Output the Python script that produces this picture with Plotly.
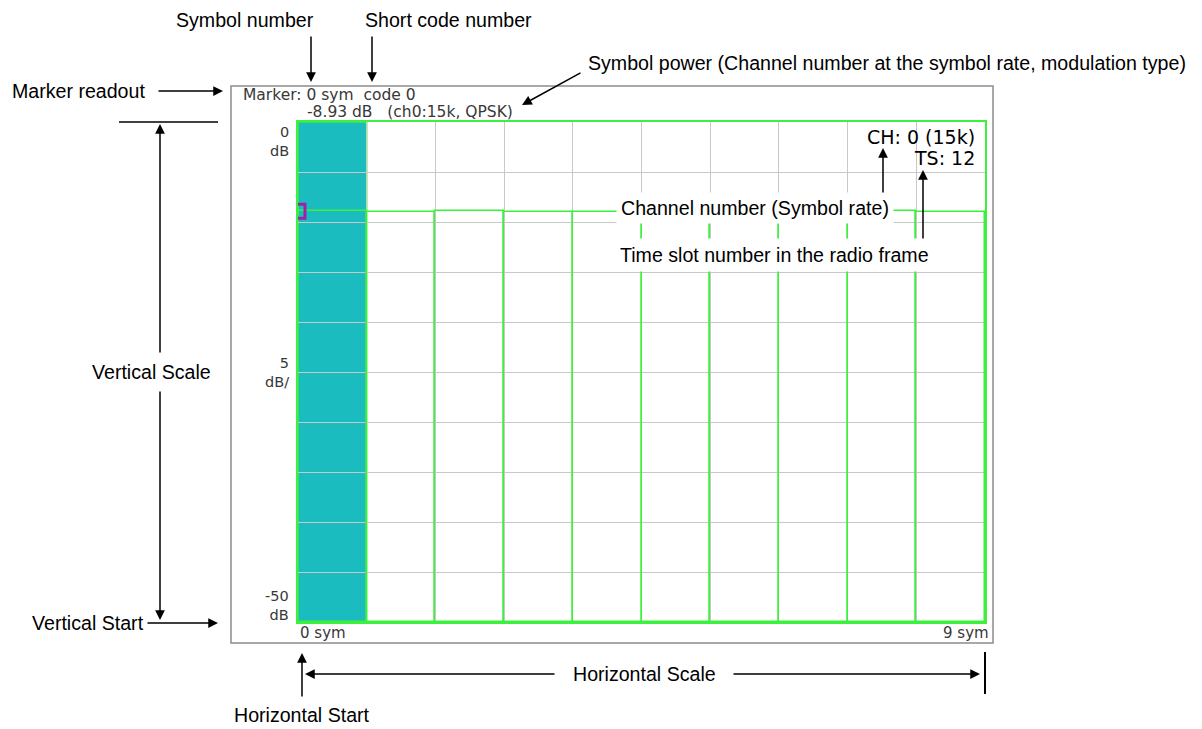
"""Code domain power vs symbol display with callout annotations."""

import plotly.graph_objects as go

# ---------------------------------------------------------------------------
# Data read from the display
# ---------------------------------------------------------------------------
symbols = [0, 1, 2, 3, 4, 5, 6, 7, 8, 9]
symbol_power_db = [-8.93, -8.95, -8.85, -9.03, -9.03, -8.95, -9.0, -8.95, -8.87, -8.97]
marker_symbol = 0
marker_code = 0
marker_power = -8.93
channel_info = "ch0:15k, QPSK"
vertical_start = -50
vertical_top = 0
vertical_per_div = 5
horizontal_start_label = "0 sym"
horizontal_end_label = "9 sym"
ch_label = "CH: 0 (15k)"
ts_label = "TS: 12"

# ---------------------------------------------------------------------------
# Look
# ---------------------------------------------------------------------------
GREEN = "#3ef03e"
CYAN = "#1bbcbf"
GRID = "#c8c8c8"
SCREEN_TXT = "#383838"
SCREEN_FONT = "DejaVu Sans"
NOTE_FONT = "Liberation Sans Narrow, Liberation Sans, Arial"
NOTE_SIZE = 19.6

W, H = 1202, 729
L, R, T, B = 298, 985, 122, 622


def px(x):
    return (x - L) / (R - L)


def py(y):
    return (B - y) / (B - T)


fig = go.Figure()

# marker highlight column
fig.add_shape(
    type="rect", xref="x", yref="y",
    x0=marker_symbol, x1=marker_symbol + 1, y0=vertical_start, y1=vertical_top,
    fillcolor=CYAN, line=dict(color=GREEN, width=1.5), layer="below",
)

fig.add_trace(go.Bar(
    x=symbols,
    y=[p - vertical_start for p in symbol_power_db],
    base=vertical_start,
    width=1, offset=0,
    marker=dict(color="rgba(0,0,0,0)", line=dict(color=GREEN, width=1.5)),
    hoverinfo="skip",
))

fig.add_trace(go.Scatter(
    x=[marker_symbol], y=[marker_power], mode="markers",
    marker=dict(symbol="square-open", size=14, color="#a020a8", line=dict(width=3)),
    hoverinfo="skip",
))

# screen frame and callout lines
shapes = [
    dict(type="rect", xref="paper", yref="paper", x0=px(231), x1=px(993), y0=py(643), y1=py(86),
         line=dict(color="#8c8c8c", width=1.5)),
    dict(type="line", xref="paper", yref="paper", x0=px(119), x1=px(218), y0=py(122), y1=py(122),
         line=dict(color="black", width=1.5)),
    dict(type="line", xref="paper", yref="paper", x0=px(985), x1=px(985), y0=py(652), y1=py(694),
         line=dict(color="black", width=2)),
]
for s in shapes:
    fig.add_shape(**s)


def arrow(hx, hy, tx, ty):
    fig.add_annotation(
        x=px(hx), y=py(hy), xref="paper", yref="paper",
        ax=tx - hx, ay=ty - hy, axref="pixel", ayref="pixel",
        text="", showarrow=True, arrowhead=2, arrowsize=1.3, arrowwidth=1.5,
        arrowcolor="black",
    )


def note(text, x, y, anchor="center", size=NOTE_SIZE, font=NOTE_FONT, color="black", bg=None, pad=1):
    fig.add_annotation(
        x=px(x), y=py(y), xref="paper", yref="paper", text=text, showarrow=False,
        xanchor=anchor, yanchor="middle", align=anchor if anchor != "center" else "center",
        font=dict(family=font, size=size, color=color),
        bgcolor=bg, borderpad=pad,
    )


# arrows first so text boxes sit on top
arrow(311, 82, 311, 35)
arrow(372, 82, 372, 35)
arrow(223, 91, 157, 91)
arrow(522, 105, 582, 72)
arrow(883, 148, 883, 198)
arrow(923, 170, 923, 245)
arrow(160, 124, 160, 372)
arrow(160, 620, 160, 372)
arrow(218, 623, 146, 623)
arrow(302, 653, 302, 698)
arrow(305, 674, 556, 674)
arrow(980, 674, 732, 674)

# callout labels
note("Symbol number", 245, 20)
note("Short code number", 448, 20)
note("Marker readout", 10, 91, anchor="left")
note("Symbol power (Channel number at the symbol rate, modulation type)", 586, 63, anchor="left")
note("Channel number (Symbol rate)", 755, 208, bg="white", pad=4)
note("Time slot number in the radio frame", 774, 255, bg="white", pad=5)
note("Vertical Scale", 220, 372, anchor="right", bg="white", pad=8)
note("Vertical Start", 30, 623, anchor="left")
note("Horizontal Start", 302, 715)
note("Horizontal Scale", 644, 674)

# on-screen readouts
note(f"Marker: {marker_symbol} sym  code {marker_code}", 241, 95, anchor="left",
     size=15.5, font=SCREEN_FONT, color=SCREEN_TXT)
note(f"{marker_power:.2f} dB   ({channel_info})", 305, 112, anchor="left",
     size=15.5, font=SCREEN_FONT, color=SCREEN_TXT)
note(f"{vertical_top}<br>dB", 291, 141, anchor="right", size=14.5, font=SCREEN_FONT, color=SCREEN_TXT)
note(f"{vertical_per_div}<br>dB/", 291, 372, anchor="right", size=14.5, font=SCREEN_FONT, color=SCREEN_TXT)
note(f"{vertical_start}<br>dB", 291, 605, anchor="right", size=14.5, font=SCREEN_FONT, color=SCREEN_TXT)
note(horizontal_start_label, 298, 633, anchor="left", size=15, font=SCREEN_FONT, color=SCREEN_TXT)
note(horizontal_end_label, 991, 633, anchor="right", size=15, font=SCREEN_FONT, color=SCREEN_TXT)
note(ch_label, 977, 137, anchor="right", size=19, font=SCREEN_FONT, color="black")
note(ts_label, 977, 158, anchor="right", size=19, font=SCREEN_FONT, color="black")

fig.update_layout(
    width=W, height=H, autosize=False,
    margin=dict(l=L, r=W - R, t=T, b=H - B, pad=0),
    paper_bgcolor="white", plot_bgcolor="white",
    showlegend=False, barmode="overlay", bargap=0,
    xaxis=dict(range=[0, 10], dtick=1, showgrid=True, gridcolor=GRID, gridwidth=1,
               showticklabels=False, zeroline=False, showline=True, mirror=True,
               linecolor=GREEN, linewidth=1.5, fixedrange=True),
    yaxis=dict(range=[vertical_start, vertical_top], dtick=vertical_per_div, showgrid=True,
               gridcolor=GRID, gridwidth=1, showticklabels=False, zeroline=False,
               showline=True, mirror=True, linecolor=GREEN, linewidth=1.5, fixedrange=True),
)

# drop the page's default body margin so the figure sits at the window origin
fig.write_html(
    "out.html",
    config={"displayModeBar": False},
    post_script="document.body.style.margin='0';",
)
